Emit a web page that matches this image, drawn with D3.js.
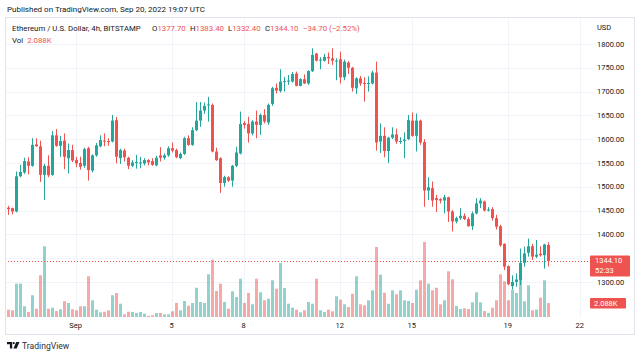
<!DOCTYPE html>
<html>
<head>
<meta charset="utf-8">
<script src="https://cdn.jsdelivr.net/npm/d3@7"></script>
<style>
  body { margin: 0; background: #fff; }
  svg { display: block; }
  text { font-family: Roboto, "Liberation Sans", sans-serif; fill: #131722; }
</style>
</head>
<body>
<div id="chart"></div>
<script>
// ETH/USD 4h candles, Aug 29 04:00 UTC .. Sep 20 16:00 UTC
var opens = [
  1456,1455,1448,1522,1530,1553,1544,1589,1585,1525,
  1544,1525,1608,1586,1597,1560,1577,1556,1550,1544,
  1581,1534,1566,1585,1597,1596,1595,1640,1560,1576,
  1561,1544,1550,1549,1549,1556,1554,1545,1566,1561,
  1566,1581,1577,1560,1569,1602,1588,1619,1639,1660,
  1671,1672,1574,1560,1508,1520,1513,1544,1570,1634,
  1632,1612,1637,1630,1651,1635,1674,1708,1701,1721,
  1721,1721,1738,1712,1726,1717,1743,1780,1765,1765,
  1773,1770,1763,1768,1730,1761,1750,1707,1728,1718,
  1716,1717,1740,1595,1607,1575,1603,1610,1594,1596,
  1600,1639,1607,1639,1594,1492,1497,1476,1474,1471,
  1478,1448,1427,1434,1439,1432,1417,1444,1465,1469,
  1450,1453,1434,1417,1380,1333,1291,1300,1304,1340,
  1361,1375,1353,1359,1356,1377.7
];
var highs = [
  1460,1456,1532,1546,1561,1562,1602,1602,1597,1548,
  1566,1617,1621,1607,1612,1591,1588,1563,1563,1582,
  1584,1568,1592,1608,1612,1602,1651,1647,1580,1580,
  1563,1556,1567,1563,1560,1558,1560,1565,1583,1570,
  1585,1593,1580,1572,1605,1608,1625,1678,1678,1677,
  1689,1675,1582,1562,1523,1522,1546,1584,1658,1638,
  1647,1640,1660,1654,1663,1675,1710,1717,1747,1731,
  1735,1741,1742,1728,1736,1745,1791,1781,1772,1779,
  1782,1791,1770,1784,1767,1764,1752,1730,1733,1730,
  1732,1744,1763,1633,1625,1605,1625,1622,1604,1614,
  1651,1656,1654,1641,1600,1520,1511,1483,1476,1483,
  1479,1451,1437,1455,1444,1436,1448,1476,1476,1471,
  1457,1457,1441,1420,1381,1335,1314,1318,1370,1374,
  1391,1380,1388,1375,1380,1383.4
];
var lows = [
  1441,1442,1446,1520,1527,1526,1542,1584,1510,1472,
  1520,1523,1584,1563,1537,1528,1552,1541,1536,1540,
  1513,1530,1563,1583,1585,1586,1593,1549,1548,1553,
  1537,1541,1538,1539,1545,1545,1544,1543,1553,1557,
  1563,1572,1560,1558,1567,1586,1586,1617,1626,1653,
  1637,1572,1554,1487,1500,1510,1500,1541,1568,1622,
  1593,1608,1602,1609,1633,1630,1670,1696,1698,1700,
  1714,1719,1711,1711,1716,1714,1741,1763,1747,1763,
  1758,1756,1724,1717,1724,1737,1700,1695,1712,1679,
  1700,1715,1576,1571,1562,1550,1600,1590,1590,1560,
  1598,1605,1574,1588,1458,1472,1458,1447,1465,1444,
  1426,1406,1423,1430,1430,1416,1409,1442,1455,1448,
  1448,1429,1410,1374,1325,1293,1284,1290,1293,1332,
  1353,1346,1350,1353,1328,1332.4
];
var closes = [
  1453,1448,1522,1531,1554,1544,1588,1585,1525,1544,
  1524,1608,1586,1596,1563,1577,1555,1549,1542,1579,
  1535,1566,1587,1598,1595,1595,1639,1563,1577,1562,
  1544,1551,1552,1551,1556,1551,1546,1561,1561,1566,
  1581,1576,1562,1569,1602,1588,1619,1639,1660,1670,
  1673,1574,1556,1508,1520,1513,1544,1572,1632,1630,
  1612,1637,1630,1651,1637,1672,1707,1702,1721,1722,
  1723,1737,1712,1726,1717,1743,1777,1765,1767,1773,
  1770,1765,1765,1730,1763,1750,1708,1728,1717,1716,
  1718,1740,1593,1607,1575,1603,1610,1595,1596,1599,
  1640,1607,1639,1593,1492,1499,1471,1472,1471,1478,
  1448,1427,1434,1439,1432,1417,1444,1465,1471,1450,
  1452,1434,1416,1377,1332,1295,1300,1305,1340,1360,
  1375,1353,1357,1356,1378.8,1344.1
];
// volume in thousands
var volumes = [
  1.09,1.00,4.97,4.97,1.60,0.75,3.24,1.24,6.22,10.54,
  1.24,1.39,0.89,1.15,2.34,2.09,1.15,1.00,1.60,1.60,
  6.07,2.49,1.09,0.70,0.79,1.00,3.24,3.58,1.98,0.40,
  0.79,0.75,0.60,0.75,0.49,0.19,0.25,0.60,0.60,0.40,
  0.40,0.85,2.09,1.00,2.39,1.68,2.09,4.37,2.24,2.09,
  6.37,8.54,3.88,4.97,2.24,1.24,3.83,2.98,5.71,2.09,
  3.58,1.89,5.71,3.68,2.49,2.73,5.47,4.22,8.05,4.32,
  1.98,1.39,1.09,0.70,1.00,2.24,1.98,5.71,1.00,0.75,
  1.09,0.85,3.09,2.58,1.89,1.49,3.47,6.07,1.89,1.74,
  2.49,3.98,10.44,6.31,3.62,1.98,3.98,3.38,3.98,2.49,
  2.39,2.09,4.07,5.47,11.18,4.97,3.98,4.37,1.89,2.49,
  6.81,5.62,1.64,1.19,1.30,1.19,2.19,3.68,2.19,0.89,
  0.60,1.39,2.49,6.37,5.32,2.49,4.07,3.58,7.95,2.34,
  4.73,1.00,1.09,2.88,5.47,2.088
];
// 1350 and 1250 sit under the price/volume badges, so they are left out
var priceTicks = [1300, 1400, 1450, 1500, 1550, 1600, 1650, 1700, 1750, 1800];
var gridPrices = [1300, 1350, 1400, 1450, 1500, 1550, 1600, 1650, 1700, 1750, 1800];
var dayTicks = [[8, 1, 'Sep'], [8, 5, '5'], [8, 8, '8'], [8, 12, '12'], [8, 15, '15'], [8, 19, '19'], [8, 22, '22']];

var W = 640, H = 359;
var plot = {left: 5, right: 593, top: 17, bottom: 318};
var up = '#26a69a', down = '#ef5350';
var t0 = Date.UTC(2022, 7, 29, 4);
var step = 4 * 3600e3;

var candles = opens.map(function(o, i) {
  return {t: new Date(t0 + i * step), o: o, h: highs[i], l: lows[i], c: closes[i], v: volumes[i]};
});

var x = d3.scaleUtc()
  .domain([new Date(t0), new Date(Date.UTC(2022, 8, 22))])
  .range([7.7, 579.7]);
var y = d3.scaleLinear().domain([1300, 1800]).range([281.9, 44]);
var yv = d3.scaleLinear().domain([0, 2.088]).range([317, 303]);
var fmt = d3.format('.2f');

var svg = d3.select('#chart').append('svg')
  .attr('width', W).attr('height', H);
svg.append('rect').attr('width', W).attr('height', H).attr('fill', '#fff');

svg.append('defs').append('clipPath').attr('id', 'plotclip')
  .append('rect')
  .attr('x', plot.left).attr('y', plot.top)
  .attr('width', plot.right - plot.left).attr('height', plot.bottom - plot.top);

// grid
var grid = svg.append('g').attr('class', 'grid');
grid.selectAll('line.h').data(gridPrices)
  .enter().append('line')
  .attr('x1', plot.left).attr('x2', plot.right)
  .attr('y1', function(d) { return Math.round(y(d)) + 0.5; })
  .attr('y2', function(d) { return Math.round(y(d)) + 0.5; })
  .attr('stroke', '#f0f3fa');
grid.selectAll('line.v').data(dayTicks)
  .enter().append('line')
  .attr('x1', function(d) { return Math.round(x(Date.UTC(2022, d[0], d[1]))) + 0.5; })
  .attr('x2', function(d) { return Math.round(x(Date.UTC(2022, d[0], d[1]))) + 0.5; })
  .attr('y1', plot.top).attr('y2', plot.bottom)
  .attr('stroke', '#f0f3fa');

var body = svg.append('g').attr('clip-path', 'url(#plotclip)');
var cx = function(d) { return Math.round(x(d.t)); };
var col = function(d) { return d.c >= d.o ? up : down; };

// volume
body.selectAll('rect.vol').data(candles)
  .enter().append('rect')
  .attr('class', 'vol')
  .attr('x', function(d) { return cx(d) - 1; })
  .attr('width', 3)
  .attr('y', function(d) { return yv(d.v); })
  .attr('height', function(d) { return yv(0) - yv(d.v); })
  .attr('fill', col)
  .attr('fill-opacity', 0.5);

// last price line
var last = candles[candles.length - 1];
var prev = candles[candles.length - 2];
body.append('line')
  .attr('x1', plot.left).attr('x2', plot.right)
  .attr('y1', Math.round(y(last.c)) + 0.5).attr('y2', Math.round(y(last.c)) + 0.5)
  .attr('stroke', down).attr('stroke-dasharray', '1,2');

// candles
var cg = body.selectAll('g.candle').data(candles)
  .enter().append('g')
  .attr('class', 'candle');
cg.append('line')
  .attr('x1', function(d) { return cx(d) + 0.5; })
  .attr('x2', function(d) { return cx(d) + 0.5; })
  .attr('y1', function(d) { return y(d.h); })
  .attr('y2', function(d) { return y(d.l); })
  .attr('stroke', col);
cg.append('rect')
  .attr('x', function(d) { return cx(d) - 1; })
  .attr('width', 3)
  .attr('y', function(d) { return y(Math.max(d.o, d.c)); })
  .attr('height', function(d) { return Math.max(1, Math.abs(y(d.o) - y(d.c))); })
  .attr('fill', col);

// frame
svg.append('rect')
  .attr('x', 5.5).attr('y', 17.5).attr('width', 629).attr('height', 317)
  .attr('fill', 'none').attr('stroke', '#e0e3eb');

// price axis
var pa = svg.append('g').attr('font-size', 7.5);
pa.append('text').attr('x', 597).attr('y', 29.5).text('USD');
pa.selectAll('text.tick').data(priceTicks)
  .enter().append('text')
  .attr('class', 'tick')
  .attr('x', 597)
  .attr('y', function(d) { return y(d) + 2.7; })
  .text(fmt);

// time axis
svg.append('g').attr('font-size', 7.5)
  .selectAll('text').data(dayTicks)
  .enter().append('text')
  .attr('x', function(d) { return x(Date.UTC(2022, d[0], d[1])); })
  .attr('y', 328)
  .attr('text-anchor', 'middle')
  .text(function(d) { return d[2]; });

// price and volume badges
var badge = svg.append('g');
badge.append('rect')
  .attr('x', 590).attr('y', y(last.c) - 5.5).attr('width', 40).attr('height', 21)
  .attr('rx', 1).attr('fill', down);
badge.append('text').attr('x', 595).attr('y', y(last.c) + 2.5)
  .attr('font-size', 7.5).style('fill', '#fff').text(fmt(last.c));
badge.append('text').attr('x', 595).attr('y', y(last.c) + 12)
  .attr('font-size', 7.5).style('fill', '#fff').text('52:33');
badge.append('rect')
  .attr('x', 590).attr('y', yv(last.v) - 5).attr('width', 36).attr('height', 10.5)
  .attr('rx', 1).attr('fill', down);
badge.append('text').attr('x', 594).attr('y', yv(last.v) + 2.7)
  .attr('font-size', 7.5).style('fill', '#fff').text('2.088K');

// headers
svg.append('text').attr('x', 7).attr('y', 12).attr('font-size', 8)
  .text('Published on TradingView.com, Sep 20, 2022 19:07 UTC');

var change = last.c - prev.c;
var legendItems = [
  {x: 12, k: 'Ethereum / U.S. Dollar, 4h, BITSTAMP', v: ''},
  {x: 152, k: 'O', v: fmt(last.o)},
  {x: 190, k: 'H', v: fmt(last.h)},
  {x: 228, k: 'L', v: fmt(last.l)},
  {x: 265, k: 'C', v: fmt(last.c)},
  {x: 303, k: '', v: fmt(change) + ' (' + fmt(change / prev.c * 100) + '%)'}
];
var legend = svg.append('g').attr('font-size', 7.8);
var li = legend.selectAll('text').data(legendItems)
  .enter().append('text')
  .attr('x', function(d) { return d.x; })
  .attr('y', 31);
li.append('tspan').text(function(d) { return d.k; });
li.append('tspan').style('fill', down).text(function(d) { return d.v; });

var vol = svg.append('text').attr('x', 12).attr('y', 42.5).attr('font-size', 7.8);
vol.append('tspan').text('Vol');
vol.append('tspan').attr('dx', 4).style('fill', down).text('2.088K');

// logo
var logo = svg.append('g').attr('fill', '#131722');
logo.append('path').attr('d', 'M7,342h5.2v6.5h-2.3v-4.3H7z');
logo.append('circle').attr('cx', 13.8).attr('cy', 343.1).attr('r', 1.1);
logo.append('path').attr('d', 'M16.2,342h3.3l-2.8,6.5h-3.3z');
svg.append('text').attr('x', 22).attr('y', 348.5).attr('font-size', 8.6)
  .style('fill', '#2a2e39').text('TradingView');
</script>
</body>
</html>
